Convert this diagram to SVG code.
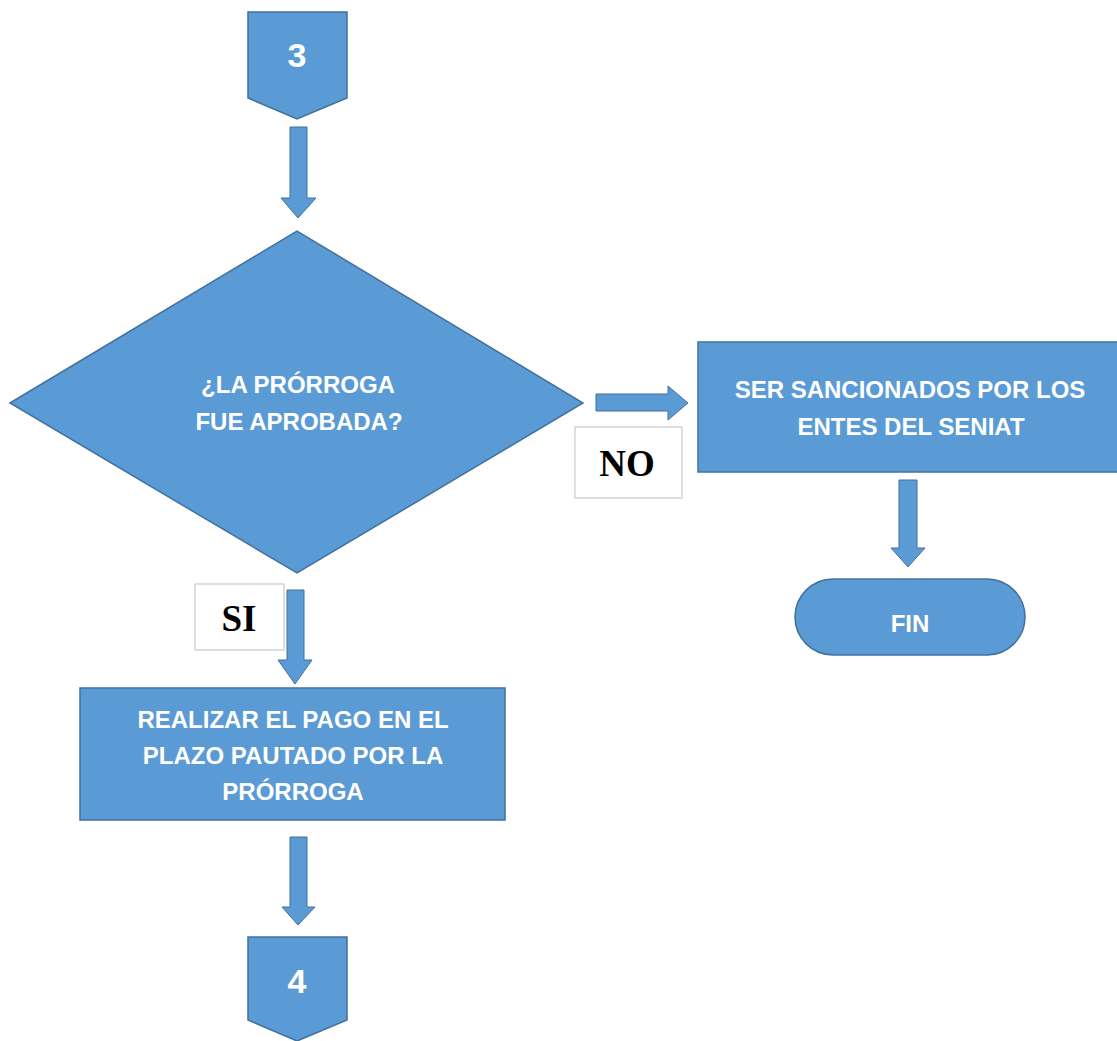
<svg xmlns="http://www.w3.org/2000/svg" width="1117" height="1041" viewBox="0 0 1117 1041">
<style>
.shape{fill:#5B9BD5;stroke:#41719C;stroke-width:1.5}
.arrow{fill:#5B9BD5;stroke:#41719C;stroke-width:1}
.lbl{font-family:"Liberation Sans",Arial,sans-serif;font-weight:bold;font-size:24px;fill:#FFFFFF;text-anchor:middle}
.num{font-family:"Liberation Sans",Arial,sans-serif;font-weight:bold;font-size:34px;fill:#FFFFFF;text-anchor:middle}
.box{fill:#FFFFFF;stroke:#BFBFBF;stroke-width:1}
.yn{font-family:"Liberation Serif","Times New Roman",serif;font-weight:bold;font-size:37px;fill:#000000;text-anchor:middle}
</style>
<rect width="1117" height="1041" fill="#FFFFFF"/>
<g id="connectors">
<polygon class="arrow" points="290,127 307,127 307,198 316,198 298,218 281,198 290,198"/>
<polygon class="arrow" points="596,394 668,394 668,386 688,403 668,420 668,411 596,411"/>
<polygon class="arrow" points="287,590 304,590 304,660 312,660 295,684 278,660 287,660"/>
<polygon class="arrow" points="899,480 917,480 917,548 925,548 908,567 891,548 899,548"/>
<polygon class="arrow" points="290,837 307,837 307,907 315,907 298,925 282,907 290,907"/>
</g>
<g id="node-3">
<polygon class="shape" points="248,12 347,12 347,98 297,119 248,98"/>
<text class="num" x="297" y="67">3</text>
</g>
<g id="node-decision">
<polygon class="shape" points="10,403 297,231 583,403 297,573"/>
<text class="lbl" x="298" y="393">¿LA PRÓRROGA</text>
<text class="lbl" x="299" y="430">FUE APROBADA?</text>
</g>
<g id="label-no">
<rect class="box" x="575" y="427" width="107" height="71"/>
<text class="yn" x="627" y="476">NO</text>
</g>
<g id="node-sancion">
<rect class="shape" x="698" y="342" width="425" height="130"/>
<text class="lbl" x="910" y="398">SER SANCIONADOS POR LOS</text>
<text class="lbl" x="911" y="435">ENTES DEL SENIAT</text>
</g>
<g id="node-fin">
<rect class="shape" x="795" y="579" width="230" height="76" rx="38" ry="38"/>
<text class="lbl" x="910" y="632">FIN</text>
</g>
<g id="label-si">
<rect class="box" x="195" y="584" width="89" height="66"/>
<text class="yn" x="239" y="631">SI</text>
</g>
<g id="node-pago">
<rect class="shape" x="80" y="688" width="425" height="132"/>
<text class="lbl" x="293" y="728">REALIZAR EL PAGO EN EL</text>
<text class="lbl" x="293" y="764">PLAZO PAUTADO POR LA</text>
<text class="lbl" x="293" y="800">PRÓRROGA</text>
</g>
<g id="node-4">
<polygon class="shape" points="248,937 347,937 347,1020 297,1041 248,1020"/>
<text class="num" x="297" y="993">4</text>
</g>
</svg>
